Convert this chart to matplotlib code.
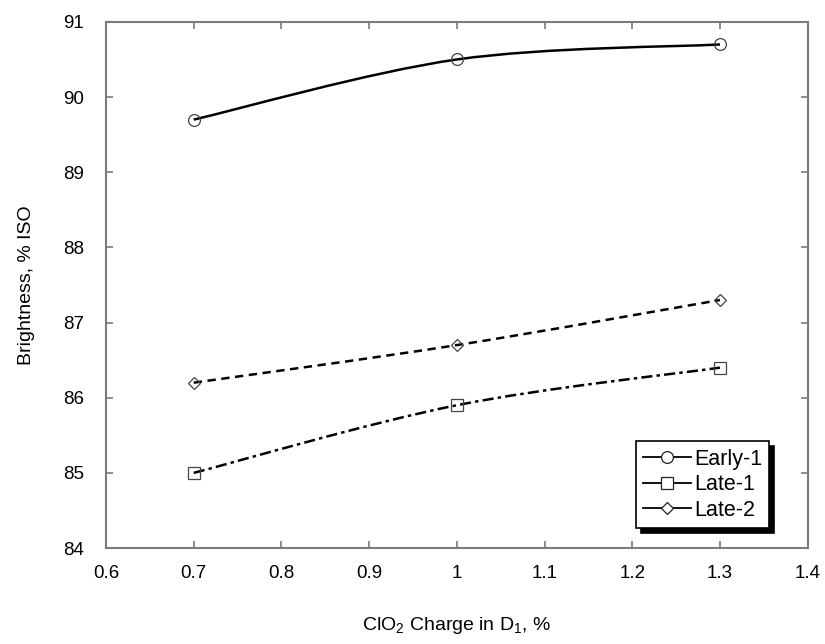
import matplotlib
matplotlib.use('Agg')
import matplotlib.pyplot as plt
from matplotlib.path import Path
from matplotlib.patches import PathPatch
from matplotlib.lines import Line2D
import numpy as np

plt.rcParams['font.family'] = ['Liberation Sans', 'DejaVu Sans']
plt.rcParams['mathtext.fontset'] = 'custom'
plt.rcParams['mathtext.rm'] = 'Liberation Sans'
plt.rcParams['mathtext.it'] = 'Liberation Sans'
plt.rcParams['lines.scale_dashes'] = False

# data
clo2_charge = [0.7, 1.0, 1.3]
early_1 = [89.7, 90.5, 90.7]
late_1 = [85.0, 85.9, 86.4]
late_2 = [86.2, 86.7, 87.3]

series = [
    ('Early-1', early_1, 'o', None),
    ('Late-1', late_1, 's', (0, (8, 3, 2.5, 3))),
    ('Late-2', late_2, 'D', (0, (6, 4))),
]


def smooth_path(x, y):
    # Excel style smoothed line: cubic bezier through the points
    pts = np.column_stack([x, y]).astype(float)
    ext = np.vstack([pts[0], pts, pts[-1]])
    verts = [pts[0]]
    codes = [Path.MOVETO]
    for i in range(len(pts) - 1):
        p0, p1, p2, p3 = ext[i], ext[i + 1], ext[i + 2], ext[i + 3]
        c1 = p1 + (p2 - p0) / 6
        c2 = p2 - (p3 - p1) / 6
        verts += [c1, c2, p2]
        codes += [Path.CURVE4] * 3
    return Path(verts, codes)


fig = plt.figure(figsize=(8.25, 6.44), dpi=100)
ax = fig.add_axes([0.1285, 0.149, 0.8505, 0.817])

handles = []
for name, vals, mk, ls in series:
    path = smooth_path(clo2_charge, vals)
    patch = PathPatch(path, facecolor='none', edgecolor='black', lw=1.8,
                      linestyle=ls if ls else 'solid')
    ax.add_patch(patch)
    ms = 6.5 if mk == 'D' else 8.5
    ax.plot(clo2_charge, vals, linestyle='none', marker=mk, ms=ms,
            mfc='none', mec='#444444', mew=0.9, zorder=3)
    handles.append(Line2D([], [], color='black', lw=1.3, marker=mk, ms=ms,
                          mfc='white', mec='#222222', mew=0.9))

ax.set_xlim(0.6, 1.4)
ax.set_ylim(84, 91)
ax.set_xticks([0.6, 0.7, 0.8, 0.9, 1.0, 1.1, 1.2, 1.3, 1.4])
ax.set_xticklabels(['0.6', '0.7', '0.8', '0.9', '1', '1.1', '1.2', '1.3', '1.4'])
ax.set_yticks(range(84, 92))

for sp in ax.spines.values():
    sp.set_color('#7a7a7a')
    sp.set_linewidth(1.5)
ax.tick_params(direction='in', length=5, width=1.2, color='#7a7a7a',
               top=True, right=True, labelsize=13.5)
ax.tick_params(axis='x', pad=12)
ax.tick_params(axis='y', pad=16)

ax.set_xlabel(r'ClO$_2$ Charge in D$_1$, %', fontsize=14, labelpad=24)
ax.set_ylabel('Brightness, % ISO', fontsize=14, labelpad=20)

leg = ax.legend(handles, ['Early-1', 'Late-1', 'Late-2'], loc='lower right',
                bbox_to_anchor=(0.9455, 0.038), fontsize=15.5, handlelength=2.2,
                handletextpad=0.15, labelspacing=0.2, borderpad=0.35,
                borderaxespad=0, fancybox=False, framealpha=1, edgecolor='black',
                shadow={'color': 'black', 'alpha': 1, 'ox': 3.5, 'oy': -3.5})
leg.get_frame().set_linewidth(1.2)

plt.savefig('out.png', dpi=100)
plt.close()
